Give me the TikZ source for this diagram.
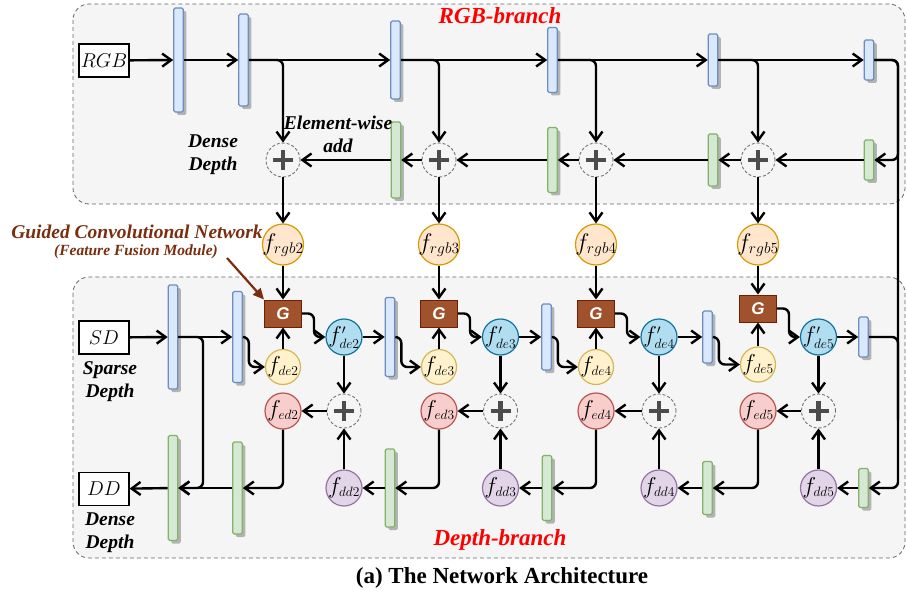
\RequirePackage{fix-cm}
\documentclass[tikz,border=0pt]{standalone}
\usepackage{fontspec}
\setmainfont{Liberation Serif}
\newfontfamily\gfont{Liberation Sans}
\usetikzlibrary{arrows.meta,shadows}
% large base letter with a comparatively small subscript in the feature labels
\DeclareMathSizes{23}{23}{13.5}{9}
\DeclareMathSizes{24}{24}{15.5}{10}
% feature label: takes no room, so the circle keeps its own size
\newcommand{\featlabel}[1]{\makebox[0pt]{\smash{\raisebox{-0.24em}{$#1$}}}}

\definecolor{panelfill}{HTML}{F5F5F5}
\definecolor{panelline}{HTML}{666666}
\definecolor{bluefill}{HTML}{DAE8FC}
\definecolor{blueline}{HTML}{6C8EBF}
\definecolor{greenfill}{HTML}{D5E8D4}
\definecolor{greenline}{HTML}{82B366}
\definecolor{orangefill}{HTML}{FFE6CC}
\definecolor{orangeline}{HTML}{D79B00}
\definecolor{yellowfill}{HTML}{FFF2CC}
\definecolor{yellowline}{HTML}{D6B656}
\definecolor{cyanfill}{HTML}{B1DDF0}
\definecolor{cyanline}{HTML}{10739E}
\definecolor{redfill}{HTML}{F8CECC}
\definecolor{redline}{HTML}{B85450}
\definecolor{purplefill}{HTML}{E1D5E7}
\definecolor{purpleline}{HTML}{9673A6}
\definecolor{gboxfill}{HTML}{A0522D}
\definecolor{gboxline}{HTML}{6D1F00}
\definecolor{gcnbrown}{HTML}{7A2E0E}
\definecolor{branchred}{HTML}{FF0000}

\tikzset{
  panel/.style={draw=panelline, fill=panelfill, dashed, dash pattern=on 4pt off 3pt,
    line width=0.8pt, rounded corners=16pt},
  bar/.style={rectangle, rounded corners=1.5pt, minimum width=9.5pt, inner sep=0pt,
    line width=1.1pt,
    drop shadow={shadow xshift=3pt, shadow yshift=-3pt, fill=black!55, opacity=0.5}},
  bluebar/.style={bar, draw=blueline, fill=bluefill, minimum height=#1},
  greenbar/.style={bar, draw=greenline, fill=greenfill, minimum height=#1},
  iobox/.style={rectangle, draw=black, fill=white, line width=1.1pt, inner sep=0pt,
    minimum width=50pt, minimum height=33pt, font=\fontsize{20}{20}\selectfont},
  feat/.style={circle, inner sep=0pt, line width=1.2pt, minimum size=36pt,
    font=\fontsize{23}{23}\selectfont},
  frgb/.style={feat, draw=orangeline, fill=orangefill, minimum size=41pt,
    font=\fontsize{24}{24}\selectfont},
  fde/.style={feat, draw=yellowline, fill=yellowfill, minimum size=35pt},
  fdep/.style={feat, draw=cyanline, fill=cyanfill},
  fed/.style={feat, draw=redline, fill=redfill},
  fdd/.style={feat, draw=purpleline, fill=purplefill},
  addop/.style={circle, draw=black!55, dashed, dash pattern=on 3pt off 2pt,
    line width=0.9pt, minimum size=34pt, inner sep=0pt,
    path picture={
      \draw[solid, line width=4.6pt, black!70]
        ([xshift=-10pt]path picture bounding box.center) --
        ([xshift=10pt]path picture bounding box.center)
        ([yshift=-10pt]path picture bounding box.center) --
        ([yshift=10pt]path picture bounding box.center);}},
  gbox/.style={rectangle, draw=gboxline, fill=gboxfill, line width=1pt, inner sep=0pt,
    minimum width=37pt, minimum height=27pt, text=white,
    font=\gfont\bfseries\itshape\fontsize{17}{17}\selectfont},
  flow/.style={line width=2.4pt, rounded corners=6pt,
    -{Straight Barb[length=9pt,width=13pt]}},
  wire/.style={line width=2.4pt, rounded corners=6pt},
  lbl/.style={font=\bfseries\itshape\fontsize{19.5}{23}\selectfont, align=center,
    inner sep=0pt},
  branchlbl/.style={font=\bfseries\itshape\fontsize{23}{23}\selectfont,
    text=branchred, inner sep=0pt},
}

\begin{document}
\begin{tikzpicture}[x=1pt, y=-1pt]
\useasboundingbox (0,0) rectangle (907,596);

% branch panels
\draw[panel] (73,4) rectangle (905,204);
\draw[panel] (73,277) rectangle (905,558);

\node[branchlbl] (rgbtitle) at (500,16) {RGB-branch};
\node[branchlbl] (deptitle) at (500,540) {Depth-branch};
\node[font=\bfseries\fontsize{23}{23}\selectfont, inner sep=0pt] (caption)
  at (502,578) {(a) The Network Architecture};

% ---------------- RGB branch: encoder ----------------
\node[iobox] (rgb) at (104,60.5) {$RGB$};
\node[bluebar=104pt] (t1) at (178.5,60) {};
\node[bluebar=92pt]  (t2) at (243.5,60) {};
\node[bluebar=78pt]  (t3) at (395.5,60) {};
\node[bluebar=65pt]  (t4) at (552.5,60) {};
\node[bluebar=52pt]  (t5) at (713,60) {};
\node[bluebar=40pt]  (t6) at (869,60) {};

% RGB branch: decoder
\node[greenbar=76pt] (g1t) at (396,160) {};
\node[greenbar=65pt] (g2t) at (552.5,160) {};
\node[greenbar=52pt] (g3t) at (713,160) {};
\node[greenbar=40pt] (g4t) at (869,160) {};

\node[addop] (a2) at (283,160) {};
\node[addop] (a3) at (439,160) {};
\node[addop] (a4) at (596,160) {};
\node[addop] (a5) at (758,160) {};

\node[lbl] (ewlbl) at (338,134) {Element-wise\\add};
\node[lbl] (ddtop) at (213,154.5) {Dense\\Depth};

% RGB guidance features
\node[frgb] (rgb2) at (283,244.5) {\featlabel{f_{rgb2}}};
\node[frgb] (rgb3) at (439,244.5) {\featlabel{f_{rgb3}}};
\node[frgb] (rgb4) at (596,244.5) {\featlabel{f_{rgb4}}};
\node[frgb] (rgb5) at (758,244.5) {\featlabel{f_{rgb5}}};

% guided convolution modules
\node[gbox] (G2) at (283,313.5) {G};
\node[gbox] (G3) at (439,313.5) {G};
\node[gbox] (G4) at (596,313.5) {G};
\node[gbox] (G5) at (758,308.5) {G};

\node[font=\bfseries\itshape\fontsize{19.5}{19.5}\selectfont, text=gcnbrown, inner sep=0pt]
  (gcn) at (137,232) {Guided Convolutional Network};
\node[font=\bfseries\itshape\fontsize{15.5}{15.5}\selectfont, text=gcnbrown, inner sep=0pt]
  (ffm) at (136,252) {(Feature Fusion Module)};
\coordinate (gcnfrom) at (227,258);

% ---------------- Depth branch: encoder ----------------
\node[iobox] (sd) at (104,337.5) {$SD$};
\node[lbl] (sdlbl) at (110,381.5) {Sparse\\Depth};
\node[bluebar=104pt] (b1) at (173,337) {};
\node[bluebar=91pt]  (b2) at (237.5,337) {};
\node[bluebar=79pt]  (b3) at (390,337) {};
\node[bluebar=66pt]  (b4) at (546.5,337) {};
\node[bluebar=52pt]  (b5) at (707.5,337) {};
\node[bluebar=40pt]  (b6) at (863.5,337) {};

\node[fde] (fde2) at (283,367) {\featlabel{f_{de2}}};
\node[fde] (fde3) at (439,367) {\featlabel{f_{de3}}};
\node[fde] (fde4) at (596,367) {\featlabel{f_{de4}}};
\node[fde] (fde5) at (758,364.5) {\featlabel{f_{de5}}};

\node[fdep] (fp2) at (344,337) {\featlabel{f'_{de2}}};
\node[fdep] (fp3) at (500.5,337) {\featlabel{f'_{de3}}};
\node[fdep] (fp4) at (659,337) {\featlabel{f'_{de4}}};
\node[fdep] (fp5) at (818.5,337) {\featlabel{f'_{de5}}};

% Depth branch: decoder
\node[addop] (ab2) at (344,411) {};
\node[addop] (ab3) at (500.5,411) {};
\node[addop] (ab4) at (659,411) {};
\node[addop] (ab5) at (818.5,411) {};

\node[fed] (fed2) at (283,411) {\featlabel{f_{ed2}}};
\node[fed] (fed3) at (439,411) {\featlabel{f_{ed3}}};
\node[fed] (fed4) at (596,411) {\featlabel{f_{ed4}}};
\node[fed] (fed5) at (758,411) {\featlabel{f_{ed5}}};

\node[fdd] (fdd2) at (344,488) {\featlabel{f_{dd2}}};
\node[fdd] (fdd3) at (500.5,488) {\featlabel{f_{dd3}}};
\node[fdd] (fdd4) at (659,488) {\featlabel{f_{dd4}}};
\node[fdd] (fdd5) at (818.5,488) {\featlabel{f_{dd5}}};

\node[greenbar=105pt] (d1) at (173,488) {};
\node[greenbar=92pt]  (d2) at (237.5,488) {};
\node[greenbar=78pt]  (d3) at (390,488) {};
\node[greenbar=65pt]  (d4) at (547,488) {};
\node[greenbar=53pt]  (d5) at (707.5,488) {};
\node[greenbar=39pt]  (d6) at (863.5,488) {};

\node[iobox] (dd) at (104,489) {$DD$};
\node[lbl] (ddlbl) at (110,533) {Dense\\Depth};

% right-hand bridge between the two branches
\coordinate (rtop) at (898,60);
\coordinate (rmid) at (898,420);
\coordinate (rbot) at (898,488);
\coordinate (bjoin) at (203,488);

% ---------------- connectors: RGB branch ----------------
\draw[flow] (rgb) -- (t1);
\draw[flow] (t1) -- (t2);
\draw[flow] (t2) -- (t3);
\draw[flow] (t3) -- (t4);
\draw[flow] (t4) -- (t5);
\draw[flow] (t5) -- (t6);
\draw[flow] (t2.east) -| (a2.north);
\draw[flow] (t3.east) -| (a3.north);
\draw[flow] (t4.east) -| (a4.north);
\draw[flow] (t5.east) -| (a5.north);
\draw[flow] (t6.east) -- (rtop) |- (g4t.east);
\draw[flow] (t6.east) -- (rtop) -- (rbot) -- (d6.east);
\draw[flow] (g4t) -- (a5);
\draw[flow] (a5) -- (g3t);
\draw[flow] (g3t) -- (a4);
\draw[flow] (a4) -- (g2t);
\draw[flow] (g2t) -- (a3);
\draw[flow] (a3) -- (g1t);
\draw[flow] (g1t) -- (a2);
\foreach \i in {2,3,4,5} {
  \draw[flow] (a\i) -- (rgb\i);
  \draw[flow] (rgb\i) -- (G\i);
  \draw[flow] (fde\i) -- (G\i);
  \draw[flow] (G\i.east) -- ++(12,0) |- (fp\i.west);
  \draw[flow] (fp\i) -- (ab\i);
  \draw[flow] (fdd\i) -- (ab\i);
  \draw[flow] (ab\i) -- (fed\i);
}
\draw[line width=2.2pt, draw=gcnbrown, -{Triangle[length=11pt,width=10pt]}]
  (gcnfrom) -- (G2.north west);

% ---------------- connectors: Depth branch ----------------
\draw[flow] (sd) -- (b1);
\draw[flow] (b1) -- (b2);
\draw[flow] (b1.east) -| (bjoin) -- (d1.east);
\draw[flow] (b2.east) -- ++(6,0) |- (fde2.west);
\draw[flow] (fp2) -- (b3);
\draw[flow] (b3.east) -- ++(6,0) |- (fde3.west);
\draw[flow] (fp3) -- (b4);
\draw[flow] (b4.east) -- ++(6,0) |- (fde4.west);
\draw[flow] (fp4) -- (b5);
\draw[flow] (b5.east) -- ++(6,0) |- (fde5.west);
\draw[flow] (fp5) -- (b6);
\draw[wire] (b6.east) -| (rmid);

\draw[flow] (d6) -- (fdd5);
\draw[flow] (fed5.south) |- (d5.east);
\draw[flow] (d5) -- (fdd4);
\draw[flow] (fed4.south) |- (d4.east);
\draw[flow] (d4) -- (fdd3);
\draw[flow] (fed3.south) |- (d3.east);
\draw[flow] (d3) -- (fdd2);
\draw[flow] (fed2.south) |- (d2.east);
\draw[flow] (d2) -- (d1);
\draw[flow] (d1) -- (dd);
\end{tikzpicture}
\end{document}
